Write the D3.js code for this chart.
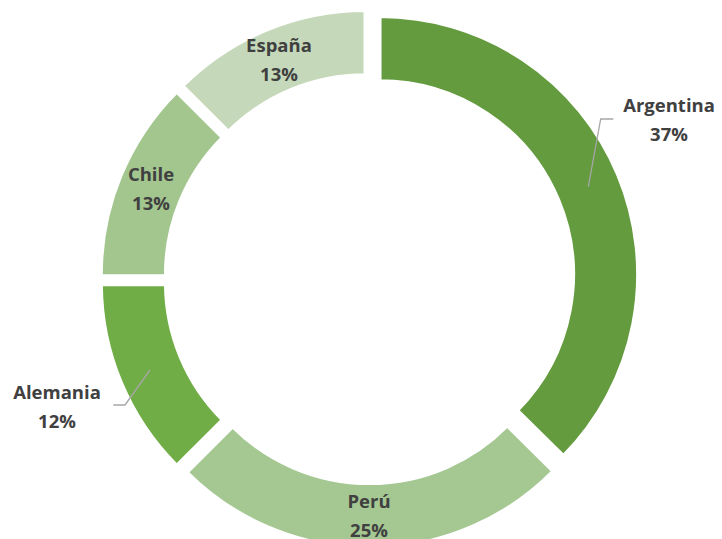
<!DOCTYPE html>
<html>
<head>
<meta charset="utf-8">
<script src="https://cdn.jsdelivr.net/npm/d3@7"></script>
<style>
  html, body { margin: 0; padding: 0; background: #ffffff; }
  svg { display: block; }
  text { font-family: "Open Sans", Lato, sans-serif; font-weight: bold; fill: #404040; }
</style>
</head>
<body>
<svg id="chart" width="722" height="539"></svg>
<script>
// ---- Data ----
const categories = ["Argentina", "Perú", "Alemania", "Chile", "España"];
const values = [37.4, 25.1, 12.4, 12.6, 12.5];
const colors = ["#639b3e", "#a5c893", "#70ad47", "#a3c68f", "#c5d9ba"];

// ---- Layout ----
const W = 722, H = 539;
const cx = 369.5, cy = 278.7;
const outerR = 258, innerR = 193.5;
const explode = 11.2;

// label anchor positions (centre of two-line label) and leader lines
const labelPos = {
  "Argentina": [669, 120],
  "Perú": [369, 515.5],
  "Alemania": [57, 407],
  "Chile": [151, 189],
  "España": [279, 60]
};
const leaders = {
  "Argentina": [[588.3, 186.7], [600.7, 119], [613.3, 119]],
  "Alemania": [[150, 370], [125, 405], [113.3, 405]]
};

const svg = d3.select("#chart");
const g = svg.append("g").attr("transform", `translate(${cx},${cy})`);

const data = categories.map((c, i) => ({ name: c, value: values[i], color: colors[i] }));
const total = d3.sum(values);

const pie = d3.pie().sort(null).value(d => d.value).startAngle(0).endAngle(2 * Math.PI);
const arc = d3.arc().innerRadius(innerR).outerRadius(outerR);
const arcs = pie(data);

g.selectAll("path.slice")
  .data(arcs)
  .enter()
  .append("path")
  .attr("class", "slice")
  .attr("d", arc)
  .attr("fill", d => d.data.color)
  .attr("stroke", "#ffffff")
  .attr("stroke-width", 3.4)
  .attr("stroke-linejoin", "miter")
  .attr("transform", d => {
    const a = (d.startAngle + d.endAngle) / 2;
    return `translate(${explode * Math.sin(a)},${-explode * Math.cos(a)})`;
  });

// leader lines
const line = d3.line();
Object.keys(leaders).forEach(k => {
  svg.append("path")
    .attr("d", line(leaders[k]))
    .attr("fill", "none")
    .attr("stroke", "#a6a6a6")
    .attr("stroke-width", 1.3);
});

// labels
const fontSize = 18.5;
arcs.forEach(d => {
  const [lx, ly] = labelPos[d.data.name];
  const pct = Math.round(d.data.value / total * 100) + "%";
  const t = svg.append("text")
    .attr("text-anchor", "middle")
    .attr("font-size", fontSize);
  t.append("tspan").attr("x", lx).attr("y", ly - 8).text(d.data.name);
  t.append("tspan").attr("x", lx).attr("y", ly + 21).text(pct);
});
</script>
</body>
</html>
